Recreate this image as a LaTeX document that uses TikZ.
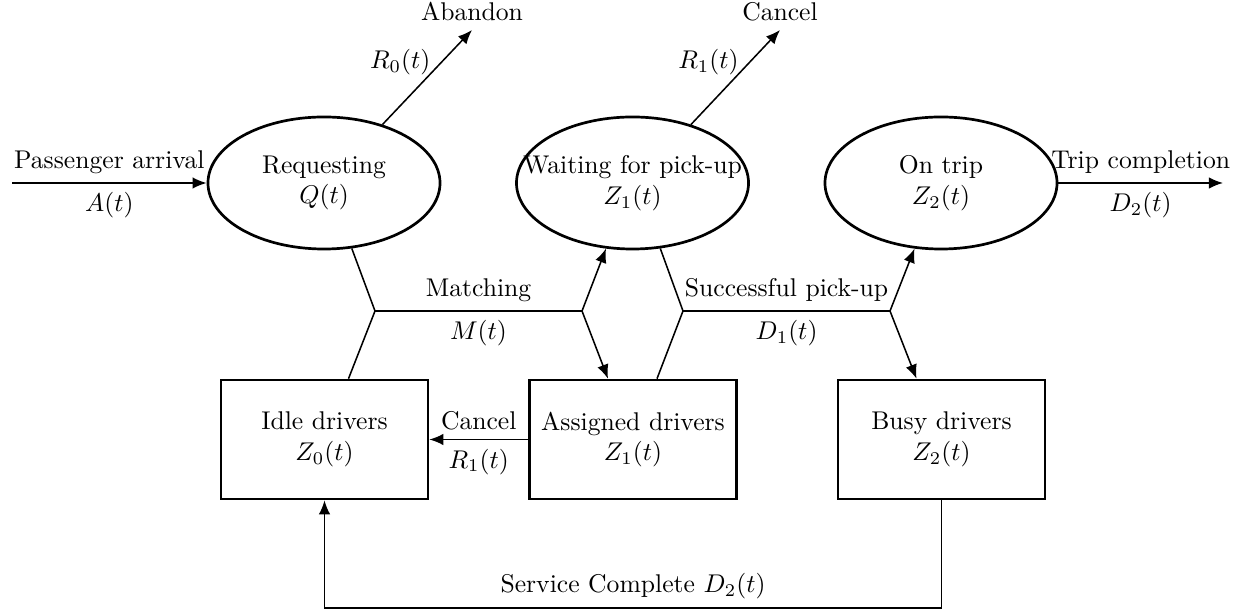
\documentclass[tikz,border=0pt]{standalone}
\usetikzlibrary{shapes.geometric,calc,arrows.meta}
\begin{document}
\begin{tikzpicture}[x=0.39pt,y=-0.39pt,
  state/.style={ellipse,draw,line width=1.05pt,minimum width=90.5pt,minimum height=51.5pt,inner sep=0pt,align=center},
  pool/.style={rectangle,draw,line width=1.05pt,minimum width=80.7pt,minimum height=46.4pt,inner sep=1pt,align=center},
  flow/.style={line width=0.6pt},
  arr/.style={flow,-{Latex[length=5.5pt,width=4.5pt]}},
  ratelabel/.style={anchor=south east,inner sep=0.5pt,xshift=2pt}]
\useasboundingbox (0,0) rectangle (1255,615);

% states (passengers)
\node[state] (req)  at (324,183) {\makebox[0pt]{Requesting}\\ \makebox[0pt]{$Q(t)$}};
\node[state] (wait) at (632.5,183) {\makebox[0pt]{Waiting for pick-up}\\ \makebox[0pt]{$Z_1(t)$}};
\node[state] (trip) at (941,183) {\makebox[0pt]{On trip}\\ \makebox[0pt]{$Z_2(t)$}};

% driver pools
\node[pool] (idle)     at (324.5,439.5) {Idle drivers\\ $Z_0(t)$};
\node[pool] (assigned) at (633,439.5) {Assigned drivers\\ $Z_1(t)$};
\node[pool] (busy)     at (941.5,439.5) {Busy drivers\\ $Z_2(t)$};

% free ends and junctions
\coordinate (pin)  at (12,183);
\coordinate (pout) at (1223,183);
\coordinate (ab)   at (472,30);
\coordinate (cn)   at (780,30);
\coordinate (m1)   at (375,311);
\coordinate (m2)   at (582,311);
\coordinate (s1)   at (683,311);
\coordinate (s2)   at (890,311);
\coordinate (base) at (0,608);

% external flows
\draw[arr] (pin) -- node[above]{Passenger arrival} node[below]{$A(t)$} (req.west);
\draw[arr] (trip.east) -- node[above]{Trip completion} node[below]{$D_2(t)$} (pout);
\draw[arr] (req.45) -- node[ratelabel,pos=0.5]{$R_0(t)$} (ab) node[above]{Abandon};
\draw[arr] (wait.45) -- node[ratelabel,pos=0.5]{$R_1(t)$} (cn) node[above]{Cancel};

% matching
\draw[flow] (req.-67) -- (m1) -- ($(idle.north)+(24,0)$);
\draw[flow] (m1) -- node[above]{Matching} node[below]{$M(t)$} (m2);
\draw[arr] (m2) -- (wait.-112);
\draw[arr] (m2) -- ($(assigned.north)+(-25,0)$);

% successful pick-up
\draw[flow] (wait.-67) -- (s1) -- ($(assigned.north)+(24,0)$);
\draw[flow] (s1) -- node[above]{Successful pick-up} node[below]{$D_1(t)$} (s2);
\draw[arr] (s2) -- (trip.-112);
\draw[arr] (s2) -- ($(busy.north)+(-25,0)$);

% cancel of assigned drivers
\draw[arr] (assigned.west) -- node[above]{Cancel} node[below]{$R_1(t)$} (idle.east);

% service complete
\draw[arr] (busy.south) -- (busy.south |- base) -- node[above]{Service Complete $D_2(t)$} (idle.south |- base) -- (idle.south);
\end{tikzpicture}
\end{document}
